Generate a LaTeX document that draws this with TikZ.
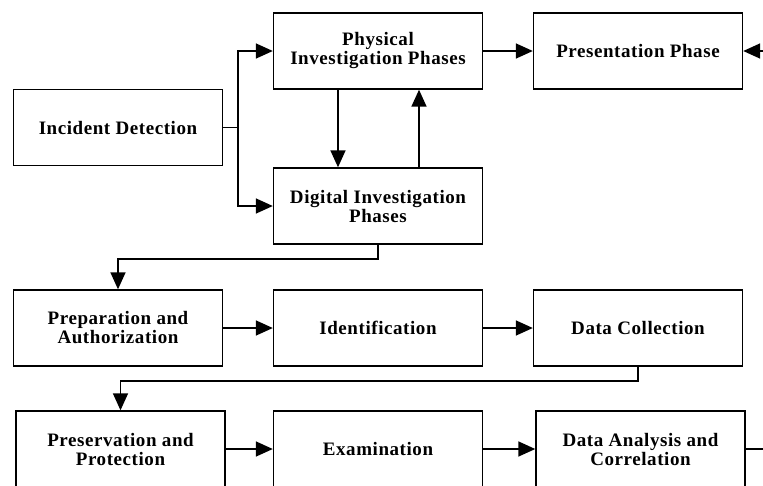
\documentclass[tikz,border=0pt]{standalone}
\usepackage{fontspec}
\setmainfont{Liberation Serif}[LetterSpace=3]
\usetikzlibrary{arrows.meta}
\begin{document}
\begin{tikzpicture}[x=1pt, y=-1pt, line width=1.6pt, every node/.style={font=\fontsize{19}{19}\selectfont\bfseries},
  ph/.style={draw, line width=1.4pt, minimum width=209pt, minimum height=76pt, align=center, inner sep=2pt},
  arr/.style={-{Triangle[length=17pt, width=15pt]}}]
\useasboundingbox (0,0) rectangle (763,485);
\node[ph] (det) at (118,127.5) {Incident Detection};
\node[ph] (phys) at (378,51) {Physical\\Investigation Phases};
\node[ph] (pres) at (638,51) {Presentation Phase};
\node[ph] (dig) at (378,206) {Digital Investigation\\Phases};
\node[ph] (prep) at (118,328) {Preparation and\\Authorization};
\node[ph] (iden) at (378,328) {Identification};
\node[ph] (coll) at (638,328) {Data Collection};
\node[ph] (prot) at (120.5,449) {Preservation and\\Protection};
\node[ph] (exam) at (378,449) {Examination};
\node[ph] (anal) at (640.5,449) {Data Analysis and\\Correlation};
% top part
\coordinate (sp) at (238,127.5);
\coordinate (rin) at (763,51);
\coordinate (rout) at (763,449);
\draw (det.east) -- (sp);
\draw[arr] (sp) |- (phys.west);
\draw[arr] (sp) |- (dig.west);
\draw[arr] ([xshift=-40pt]phys.south) -- ([xshift=-40pt]dig.north);
\draw[arr] ([xshift=41pt]dig.north) -- ([xshift=41pt]phys.south);
\draw[arr] (phys) -- (pres);
\draw[arr] (rin) -- (pres.east);
% phases
\draw[arr] (dig.south) -- ++(0,14) -| (prep.north);
\draw[arr] (prep) -- (iden);
\draw[arr] (iden) -- (coll);
\draw[arr] (coll.south) -- ++(0,14) -| (prot.north);
\draw[arr] (prot) -- (exam);
\draw[arr] (exam) -- (anal);
\draw (anal.east) -- (rout);
\end{tikzpicture}
\end{document}
